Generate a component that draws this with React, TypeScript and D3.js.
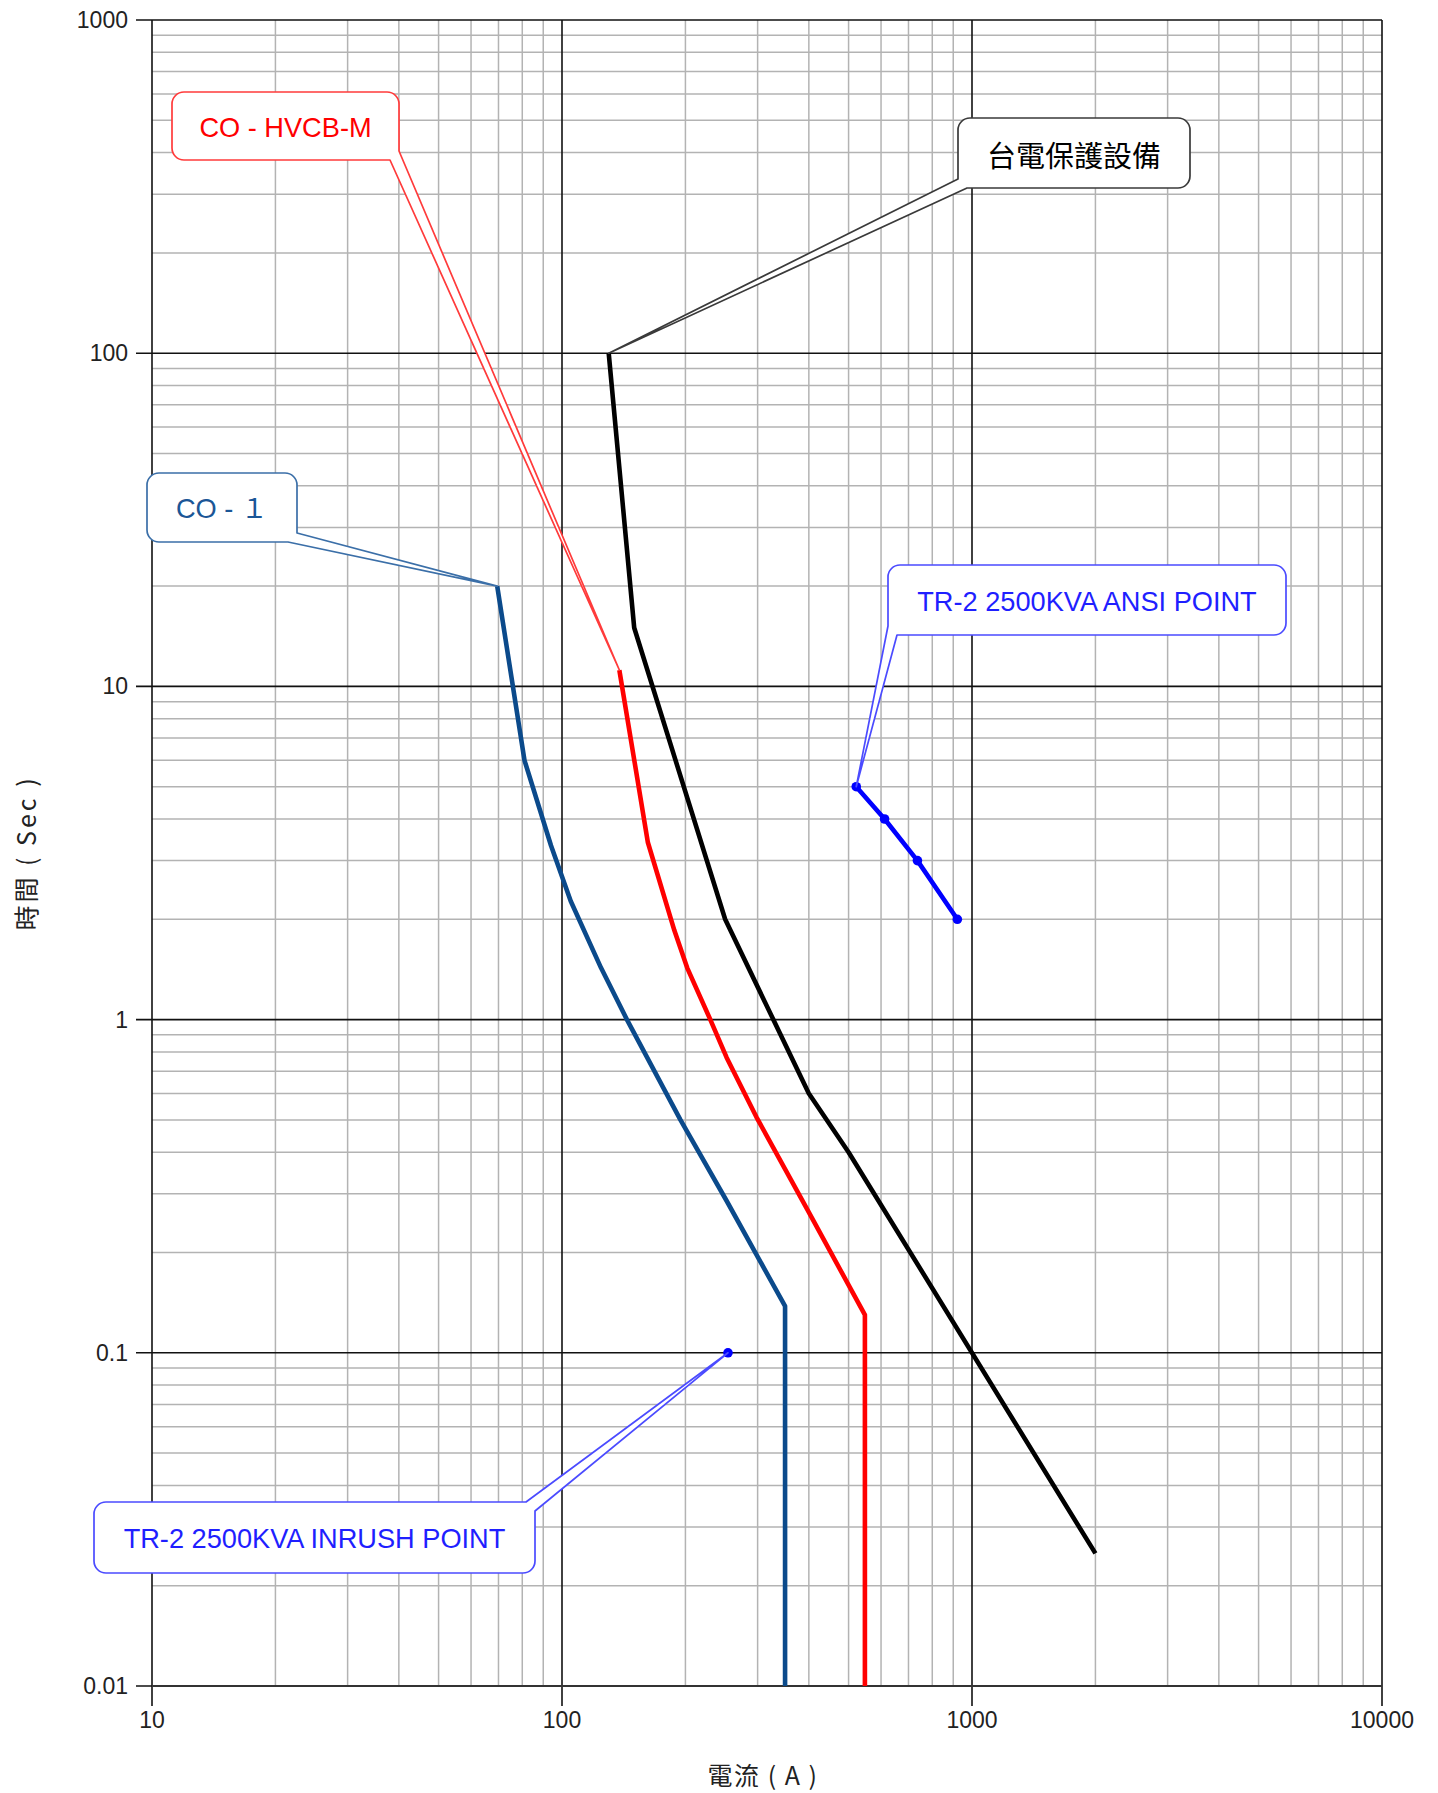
import { useEffect, useRef } from 'react';
import * as d3 from 'd3';

const WIDTH = 1438;
const HEIGHT = 1793;
const margin = { top: 20, right: 56, bottom: 107, left: 152 };

// axis ticks
const xTicks = [10, 100, 1000, 10000];
const yTicks = [0.01, 0.1, 1, 10, 100, 1000];
const xTitle = '電流 ( A )';
const yTitle = '時間 ( Sec )';

// curves: [current (A), time (s)]
const taipowerCurve: [number, number][] = [
  [130, 100], [150, 15], [250, 2], [400, 0.6], [500, 0.4], [2000, 0.025],
];
const hvcbCurve: [number, number][] = [
  [138, 11.2], [162, 3.4], [188, 1.85], [202, 1.43], [230, 1.0], [252, 0.77],
  [298, 0.51], [394, 0.273], [548, 0.13], [548, 0.01],
];
const co1Curve: [number, number][] = [
  [69.5, 20], [81, 6], [94, 3.33], [105, 2.27], [124.5, 1.43], [144, 1.0],
  [194.5, 0.5], [252, 0.286], [350, 0.138], [350, 0.01],
];
const ansiPoints: [number, number][] = [
  [522, 5], [612, 4], [736, 3], [921, 2],
];
const inrushPoints: [number, number][] = [[254, 0.1]];

type Corner = 'tl' | 'tr' | 'bl' | 'br';

// callout boxes (pixel layout) pointing at the first point of a series
const callouts = [
  { text: 'CO - HVCB-M', series: hvcbCurve, box: [172, 92, 227, 68], corner: 'br' as Corner, color: '#ff0000', border: '#ff3b3b', cjk: false },
  { text: '台電保護設備', series: taipowerCurve, box: [958, 118, 232, 70], corner: 'bl' as Corner, color: '#000000', border: '#3a3a3a', cjk: true },
  { text: 'CO - １', series: co1Curve, box: [147, 473, 150, 69], corner: 'br' as Corner, color: '#1b5696', border: '#3b6fa8', cjk: false },
  { text: 'TR-2 2500KVA ANSI POINT', series: ansiPoints, box: [888, 565, 398, 70], corner: 'bl' as Corner, color: '#1f1fff', border: '#4b4bff', cjk: false },
  { text: 'TR-2 2500KVA INRUSH POINT', series: inrushPoints, box: [94, 1502, 441, 71], corner: 'tr' as Corner, color: '#1f1fff', border: '#4b4bff', cjk: false },
];

const LATIN = '"Liberation Sans", Arial, "Noto Sans CJK TC", sans-serif';
const CJK = '"Noto Sans CJK TC", "Liberation Sans", sans-serif';

function bubblePath(x: number, y: number, w: number, h: number, r: number, corner: Corner, tip: [number, number], d: number) {
  const [tx, ty] = tip;
  let p = `M${x + r},${y} L${x + w - r},${y} `;
  if (corner === 'tr') p += `L${x + w - d},${y} L${tx},${ty} L${x + w},${y + d} `;
  else p += `A${r},${r} 0 0 1 ${x + w},${y + r} `;
  p += `L${x + w},${y + h - r} `;
  if (corner === 'br') p += `L${x + w},${y + h - d} L${tx},${ty} L${x + w - d},${y + h} `;
  else p += `A${r},${r} 0 0 1 ${x + w - r},${y + h} `;
  p += `L${x + r},${y + h} `;
  if (corner === 'bl') p += `L${x + d},${y + h} L${tx},${ty} L${x},${y + h - d} `;
  else p += `A${r},${r} 0 0 1 ${x},${y + h - r} `;
  p += `L${x},${y + r} A${r},${r} 0 0 1 ${x + r},${y} Z`;
  return p;
}

export default function App() {
  const svgRef = useRef<SVGSVGElement>(null);

  useEffect(() => {
    if (!svgRef.current) return;
    const svg = d3.select(svgRef.current);
    svg.selectAll('*').remove();

    const x = d3.scaleLog().domain([10, 10000]).range([margin.left, WIDTH - margin.right]);
    const y = d3.scaleLog().domain([0.01, 1000]).range([HEIGHT - margin.bottom, margin.top]);
    const [x0, x1] = x.range();
    const [y0, y1] = y.range();

    svg.append('rect').attr('width', WIDTH).attr('height', HEIGHT).attr('fill', '#fff');

    // minor grid
    const minorX: number[] = [];
    for (let i = 0; i < xTicks.length - 1; i++) for (let k = 2; k <= 9; k++) minorX.push(xTicks[i] * k);
    const minorY: number[] = [];
    for (let i = 0; i < yTicks.length - 1; i++) for (let k = 2; k <= 9; k++) minorY.push(yTicks[i] * k);

    const grid = svg.append('g');
    grid.selectAll('.mx').data(minorX).enter().append('line')
      .attr('x1', (d) => x(d)).attr('x2', (d) => x(d)).attr('y1', y1).attr('y2', y0)
      .attr('stroke', '#b3b3b3').attr('stroke-width', 1.5);
    grid.selectAll('.my').data(minorY).enter().append('line')
      .attr('y1', (d) => y(d)).attr('y2', (d) => y(d)).attr('x1', x0).attr('x2', x1)
      .attr('stroke', '#b3b3b3').attr('stroke-width', 1.5);

    // major grid + ticks
    grid.selectAll('.Mx').data(xTicks).enter().append('line')
      .attr('x1', (d) => x(d)).attr('x2', (d) => x(d)).attr('y1', y1).attr('y2', y0 + 20)
      .attr('stroke', '#111').attr('stroke-width', 1.6);
    grid.selectAll('.My').data(yTicks).enter().append('line')
      .attr('y1', (d) => y(d)).attr('y2', (d) => y(d)).attr('x1', x0 - 16).attr('x2', x1)
      .attr('stroke', '#111').attr('stroke-width', 1.6);
    grid.append('line').attr('x1', x0).attr('x2', x1).attr('y1', y0).attr('y2', y0)
      .attr('stroke', '#333').attr('stroke-width', 2.2);

    // tick labels
    svg.append('g').selectAll('text').data(xTicks).enter().append('text')
      .attr('x', (d) => x(d)).attr('y', y0 + 34)
      .attr('text-anchor', 'middle').attr('dominant-baseline', 'central')
      .attr('font-family', LATIN).attr('font-size', 23).attr('fill', '#222')
      .text((d) => String(d));
    svg.append('g').selectAll('text').data(yTicks).enter().append('text')
      .attr('x', x0 - 24).attr('y', (d) => y(d))
      .attr('text-anchor', 'end').attr('dominant-baseline', 'central')
      .attr('font-family', LATIN).attr('font-size', 23).attr('fill', '#222')
      .text((d) => String(d));

    // axis titles
    svg.append('text')
      .attr('x', (x0 + x1) / 2 - 4).attr('y', 1774)
      .attr('text-anchor', 'middle').attr('dominant-baseline', 'central')
      .attr('font-family', CJK).attr('font-size', 25).attr('letter-spacing', 1.5).attr('fill', '#222')
      .text(xTitle);
    svg.append('text')
      .attr('transform', `translate(25, ${(y0 + y1) / 2}) rotate(-90)`)
      .attr('text-anchor', 'middle').attr('dominant-baseline', 'central')
      .attr('font-family', CJK).attr('font-size', 25).attr('letter-spacing', 3).attr('fill', '#222')
      .text(yTitle);

    // curves
    const line = d3.line<[number, number]>().x((d) => x(d[0])).y((d) => y(d[1]));
    const curves = [
      { data: co1Curve, color: '#0b4a8b' },
      { data: hvcbCurve, color: '#ff0000' },
      { data: taipowerCurve, color: '#000000' },
      { data: ansiPoints, color: '#0000ff' },
    ];
    curves.forEach((c) => {
      svg.append('path').attr('d', line(c.data))
        .attr('fill', 'none').attr('stroke', c.color).attr('stroke-width', 4.6)
        .attr('stroke-linejoin', 'round');
    });
    svg.append('g').selectAll('circle').data(ansiPoints.concat(inrushPoints)).enter().append('circle')
      .attr('cx', (d) => x(d[0])).attr('cy', (d) => y(d[1])).attr('r', 4.8).attr('fill', '#0000ff');

    // callouts
    callouts.forEach((c) => {
      const [bx, by, bw, bh] = c.box;
      const tip: [number, number] = [x(c.series[0][0]), y(c.series[0][1])];
      const g = svg.append('g');
      g.append('path').attr('d', bubblePath(bx, by, bw, bh, 12, c.corner, tip, 9))
        .attr('fill', '#fff').attr('stroke', c.border).attr('stroke-width', 1.7)
        .attr('stroke-linejoin', 'round');
      g.append('text')
        .attr('x', bx + bw / 2).attr('y', by + bh / 2 + 1)
        .attr('text-anchor', 'middle').attr('dominant-baseline', 'central')
        .attr('font-family', c.cjk ? CJK : LATIN).attr('font-size', c.cjk ? 29 : 27.2)
        .attr('fill', c.color)
        .text(c.text);
    });
  }, []);

  return (
    <div style={{ position: 'absolute', left: 0, top: 0 }}>
      <svg ref={svgRef} width={WIDTH} height={HEIGHT} style={{ display: 'block' }} />
    </div>
  );
}
